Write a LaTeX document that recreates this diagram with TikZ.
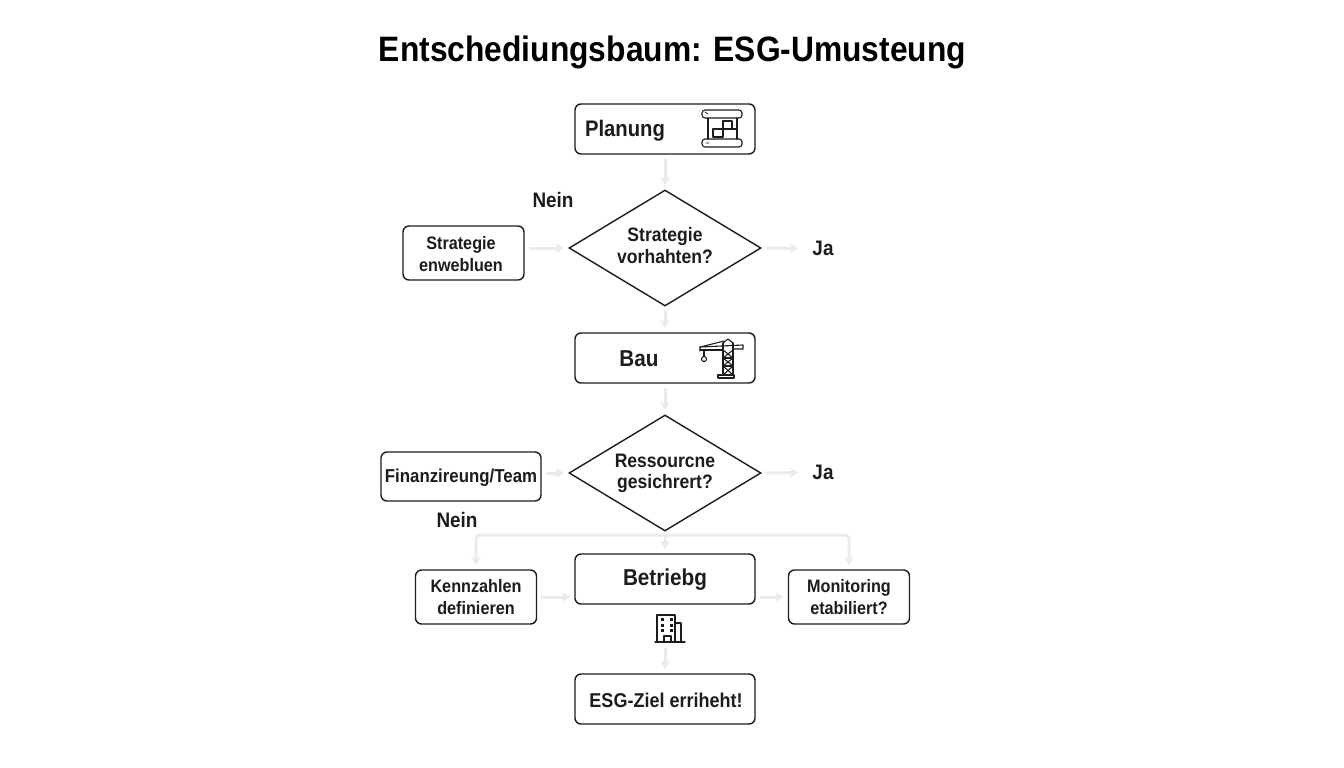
\documentclass[tikz,border=0pt]{standalone}
\usepackage{fontspec}
\setmainfont[FakeStretch=0.9]{Liberation Sans}
\usetikzlibrary{shapes.geometric,arrows.meta}
\definecolor{ink}{HTML}{1C1C1C}
\definecolor{pale}{HTML}{EBEBEB}
\newcommand{\fs}[1]{\fontsize{#1}{#1}\selectfont}
\tikzset{
  x=1pt,y=-1pt,
  box/.style={draw=ink,line width=1.4pt,rounded corners=6pt,fill=white,inner sep=0pt,align=center,text=ink,font=\fs{18}\bfseries},
  mainbox/.style={box,minimum width=180pt,minimum height=50pt},
  sidebox/.style={box,minimum width=121pt,minimum height=54pt,text width=121pt},
  dec/.style={draw=ink,line width=1.4pt,diamond,aspect=1.655,minimum width=192pt,minimum height=116pt,inner sep=0pt,fill=white},
  dectext/.style={align=center,text=ink,font=\fs{19.5}\bfseries,inner sep=0pt},
  sidetext/.style={align=center,text=ink,font=\fs{18}\bfseries,inner sep=0pt},
  lbl/.style={text=ink,font=\fs{21}\bfseries,inner sep=0pt},
  conn/.style={draw=pale,line width=3pt,rounded corners=4pt,-{Stealth[length=8pt,width=9pt,inset=1pt]},shorten <=4pt,shorten >=4pt},
  icon/.style={draw=ink,line width=1.1pt,line join=round,line cap=round},
  mark dot/.style={fill=ink,draw=none}
}
\begin{document}
\begin{tikzpicture}
\useasboundingbox (0,0) rectangle (1344,768);
\fill[white] (0,0) rectangle (1344,768);
\node[text=black,font=\fs{35.3}\bfseries,inner sep=0pt] (title) at (672.5,52) {Entschediungsbaum: ESG-Umusteung};

\node[mainbox] (plan) at (665,129) {};
\node[lbl,font=\fs{22.5}\bfseries] (plant) at (625,131) {Planung};
\node[dec] (d1) at (665,248) {};
\node[dectext] (d1t) at (665,245.5) {Strategie\\[2pt]vorhahten?};
\node[sidebox] (strat) at (463.5,253) {};
\node[sidetext] (stratt) at (461,254) {Strategie\\[4pt]enwebluen};
\node[lbl] (nein1) at (553,199.5) {Nein};
\node[lbl] (ja1) at (823,248.5) {Ja};
\node[mainbox] (bau) at (665,358) {};
\node[lbl,font=\fs{23}\bfseries] (baut) at (639,358.5) {Bau};
\node[dec] (d2) at (665,473) {};
\node[dectext] (d2t) at (665,473.5) {Ressourcne\\[2pt]gesichrert?};
\node[box,minimum width=160pt,minimum height=49pt] (fin) at (461,476.5) {};
\node[sidetext,font=\fs{18.7}\bfseries] (fint) at (461,477.5) {Finanzireung/Team};
\node[lbl] (ja2) at (823,472.5) {Ja};
\node[lbl] (nein2) at (457,519.5) {Nein};
\node[mainbox] (betr) at (665,579) {};
\node[lbl,font=\fs{23}\bfseries] (bett) at (665,579.5) {Betriebg};
\node[sidebox] (kenn) at (476,597) {Kennzahlen\\[4pt]definieren};
\node[sidebox] (moni) at (849,597) {Monitoring\\[4pt]etabiliert?};
\node[mainbox] (ziel) at (665,699) {};
\node[lbl,font=\fs{20}\bfseries] (zielt) at (666,700) {ESG-Ziel erriheht!};
\coordinate (bus) at (665,535);
\coordinate (bldg) at (665,644);

\draw[conn] (plan) -- (d1);
\draw[conn] (d1) -- (bau);
\draw[conn] (bau) -- (d2);
\draw[conn] (strat.east |- d1) -- (d1.west);
\draw[conn,shorten >=14pt] (d1.east) -- (ja1.west);
\draw[conn] (fin.east |- d2) -- (d2.west);
\draw[conn,shorten >=14pt] (d2.east) -- (ja2.west);
\draw[conn,shorten <=0pt] (bus) -- (betr.north);
\draw[conn,shorten <=0pt] (bus) -| (kenn.north);
\draw[conn,shorten <=0pt] (bus) -| (moni.north);
\draw[conn] (kenn.east) -- (kenn.east -| betr.west);
\draw[conn] (kenn.east -| betr.east) -- (moni.west);
\draw[conn] (bldg) -- (ziel.north);

% plan icon
\begin{scope}[icon]
\draw[rounded corners=3pt] (702,110) rectangle (742,118);
\draw[rounded corners=3pt] (702,139) rectangle (742,147);
\draw (708,118) -- (708,139) (737,118) -- (737,139);
\draw (713,129) rectangle (723,137);
\draw (723,121) rectangle (732,129);
\draw (732,129) -- (737,129);
\draw[line width=.8pt] (705,112) -- (708,114) (706,143) -- (709,143);
\end{scope}
% crane icon
\begin{scope}[icon]
\draw (723,343) -- (723,375) (733,343) -- (733,375);
\draw (723,343) -- (728,339) -- (733,343);
\draw (700,351) -- (700,347) -- (743,345) -- (743,349) -- (733,349);
\draw (700,347) -- (724,341);
\draw (700,350) -- (723,350);
\draw (704,350) -- (704,356);
\draw (704,359) circle (2.5pt);
\draw (723,350) -- (733,358) -- (723,366) -- (733,375);
\draw (733,350) -- (723,358) -- (733,366) -- (723,375);
\draw (723,358) -- (733,358) (723,366) -- (733,366);
\draw (718,375) rectangle (734,378);
\end{scope}
% building icon
\begin{scope}[icon]
\draw (655,642) -- (685,642);
\draw (657,642) -- (657,615) -- (675,615) -- (675,642);
\draw (675,623) -- (681,623) -- (681,642);
\draw (664,642) -- (664,636) -- (671,636) -- (671,642);
\end{scope}
\foreach \wx in {662,671} \foreach \wy in {619,625,630}
  \fill[mark dot] (\wx-1.5,\wy-1.5) rectangle (\wx+1.5,\wy+1.5);
\end{tikzpicture}
\end{document}
